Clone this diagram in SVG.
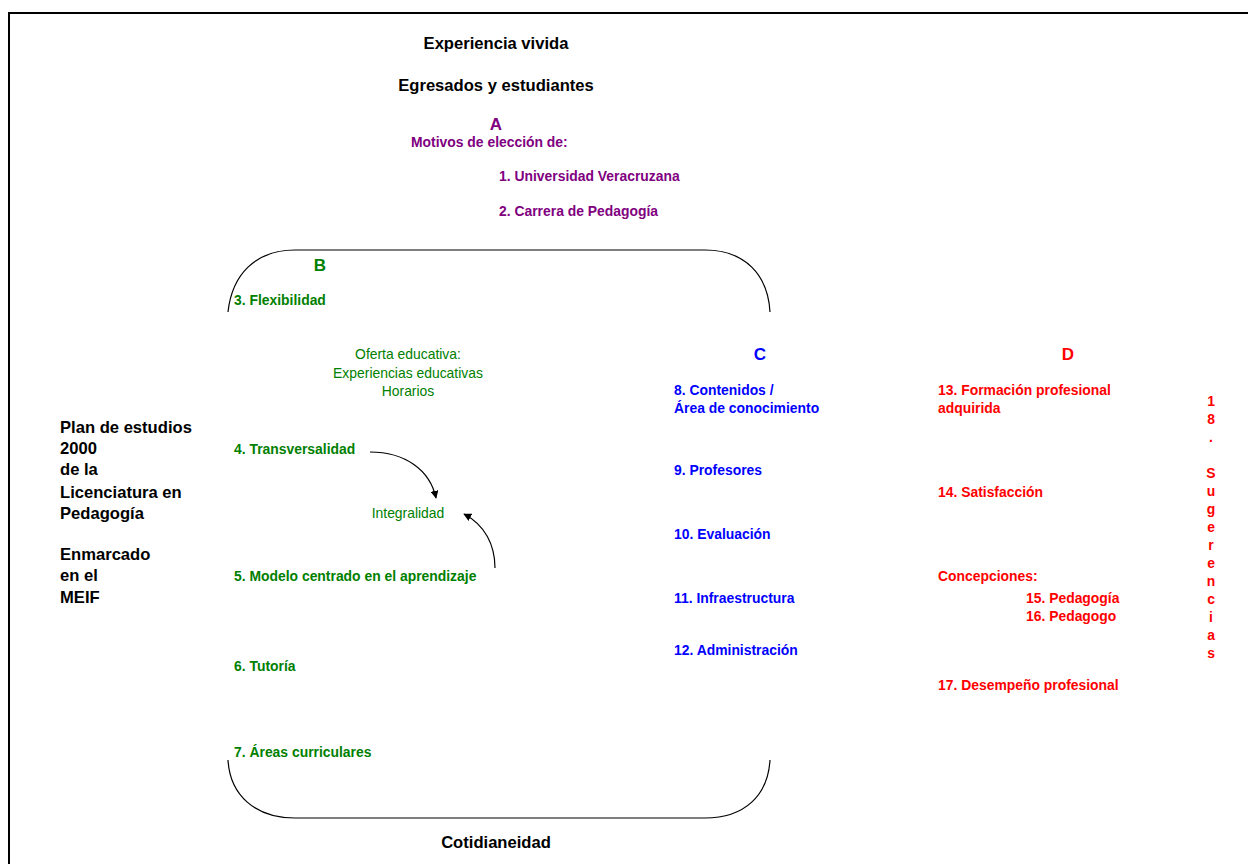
<svg xmlns="http://www.w3.org/2000/svg" width="1248" height="864" viewBox="0 0 1248 864">
<style>
text{font-family:"Liberation Sans",Arial,sans-serif;font-weight:bold;font-size:13.9px}
.t{font-size:16.6px;fill:#000}
.h{font-size:17px}
.m{text-anchor:middle}
.p{fill:#800080}
.g{fill:#008000}
.b{fill:#0000ff}
.r{fill:#ff0000}
.n{font-weight:normal}
.line{fill:none;stroke:#000;stroke-width:1.2}
</style>
<defs>
<marker id="ah" viewBox="0 0 10 10" refX="9" refY="5" markerWidth="8" markerHeight="8" orient="auto" markerUnits="userSpaceOnUse">
<path d="M0,0 L10,5 L0,10 z" fill="#000"/>
</marker>
</defs>
<rect width="1248" height="864" fill="#fff"/>
<path d="M9,864 V13 H1248" fill="none" stroke="#000" stroke-width="2"/>
<g id="header">
<text class="t m" x="496" y="49">Experiencia vivida</text>
<text class="t m" x="496" y="91">Egresados y estudiantes</text>
</g>
<g id="A">
<text class="h m p" x="496" y="130">A</text>
<text class="p" x="411" y="147">Motivos de elección de:</text>
<text class="p" x="499" y="181">1. Universidad Veracruzana</text>
<text class="p" x="499" y="216">2. Carrera de Pedagogía</text>
</g>
<g id="brackets">
<path class="line" d="M228,312 C232,275 255,250 295,250 H705 C745,250 768,275 770,312"/>
<path class="line" d="M228,760 C230,795 255,818 295,818 H705 C745,818 768,795 770,760"/>
</g>
<g id="B">
<text class="h m g" x="320" y="271">B</text>
<text class="g" x="234" y="305">3. Flexibilidad</text>
<text class="g n m" x="408" y="359">Oferta educativa:</text>
<text class="g n m" x="408" y="378">Experiencias educativas</text>
<text class="g n m" x="408" y="396">Horarios</text>
<text class="g" x="234" y="454">4. Transversalidad</text>
<text class="g n m" x="408" y="518">Integralidad</text>
<text class="g" x="234" y="581">5. Modelo centrado en el aprendizaje</text>
<text class="g" x="234" y="671">6. Tutoría</text>
<text class="g" x="234" y="757">7. Áreas curriculares</text>
</g>
<g id="plan">
<text class="t" x="60" y="433">Plan de estudios</text>
<text class="t" x="60" y="454">2000</text>
<text class="t" x="60" y="475">de la</text>
<text class="t" x="60" y="498">Licenciatura en</text>
<text class="t" x="60" y="519">Pedagogía</text>
<text class="t" x="60" y="560">Enmarcado</text>
<text class="t" x="60" y="581">en el</text>
<text class="t" x="60" y="603">MEIF</text>
</g>
<g id="C">
<text class="h m b" x="760" y="360">C</text>
<text class="b" x="674" y="395">8. Contenidos /</text>
<text class="b" x="674" y="413">Área de conocimiento</text>
<text class="b" x="674" y="475">9. Profesores</text>
<text class="b" x="674" y="539">10. Evaluación</text>
<text class="b" x="674" y="603">11. Infraestructura</text>
<text class="b" x="674" y="655">12. Administración</text>
</g>
<g id="D">
<text class="h m r" x="1068" y="360">D</text>
<text class="r" x="938" y="395">13. Formación profesional</text>
<text class="r" x="938" y="413">adquirida</text>
<text class="r" x="938" y="497">14. Satisfacción</text>
<text class="r" x="938" y="581">Concepciones:</text>
<text class="r" x="1026" y="603">15. Pedagogía</text>
<text class="r" x="1026" y="621">16. Pedagogo</text>
<text class="r" x="938" y="690">17. Desempeño profesional</text>
</g>
<g id="sugerencias">
<text class="r m" x="1211" y="406">1</text>
<text class="r m" x="1211" y="424">8</text>
<text class="r m" x="1211" y="442">.</text>
<text class="r m" x="1211" y="478">S</text>
<text class="r m" x="1211" y="496">u</text>
<text class="r m" x="1211" y="514">g</text>
<text class="r m" x="1211" y="532">e</text>
<text class="r m" x="1211" y="550">r</text>
<text class="r m" x="1211" y="568">e</text>
<text class="r m" x="1211" y="586">n</text>
<text class="r m" x="1211" y="604">c</text>
<text class="r m" x="1211" y="622">i</text>
<text class="r m" x="1211" y="640">a</text>
<text class="r m" x="1211" y="658">s</text>
</g>
<g id="footer">
<text class="t m" x="496" y="848">Cotidianeidad</text>
</g>
<g id="connectors">
<path class="line" d="M370,452 C405,452 430,470 436,498" marker-end="url(#ah)"/>
<path class="line" d="M495,568 C495,545 485,525 464,514" marker-end="url(#ah)"/>
</g>
</svg>
